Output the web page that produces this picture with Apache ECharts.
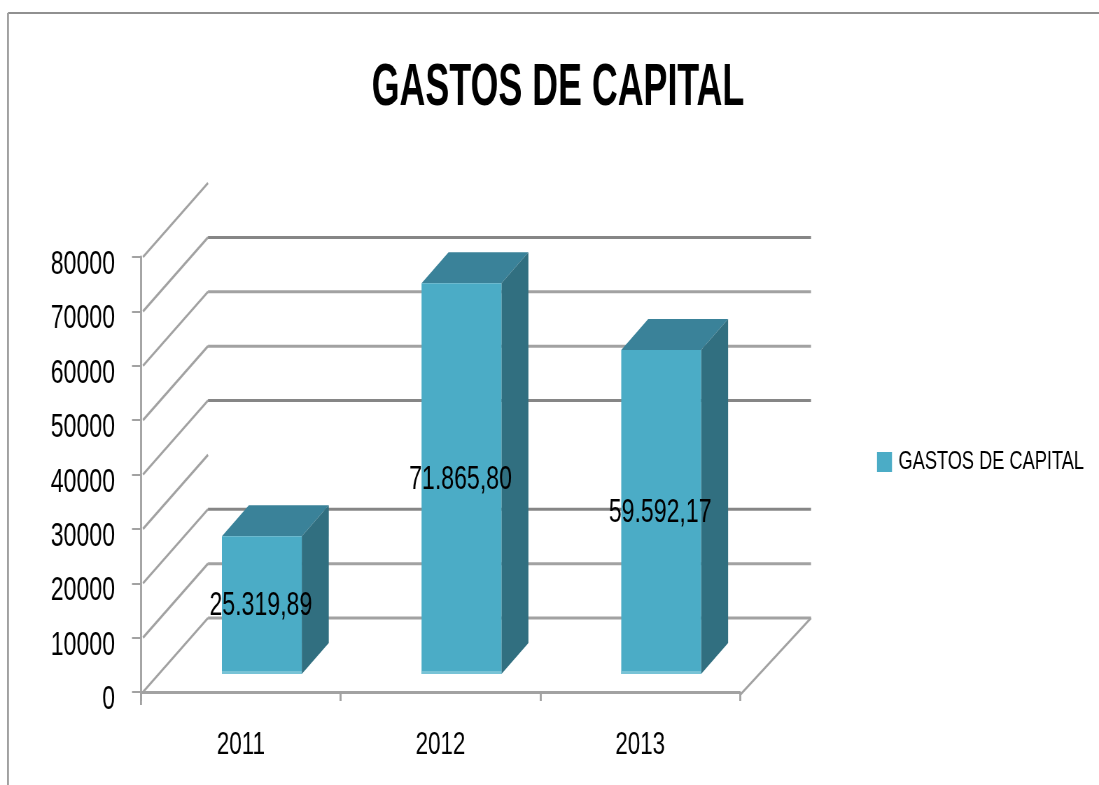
<!DOCTYPE html>
<html><head><meta charset="utf-8">
<style>html,body{margin:0;padding:0;background:#fff;width:1099px;height:785px;overflow:hidden}
#c{width:1570px;height:785px;transform:scaleX(0.7);transform-origin:0 0}</style>
<script src="https://cdn.jsdelivr.net/npm/echarts@6/dist/echarts.min.js"></script></head>
<body><div id="c"></div>
<script>
const titleText = 'GASTOS DE CAPITAL';
const seriesName = 'GASTOS DE CAPITAL';
const categories = ['2011', '2012', '2013'];
const values = [25319.89, 71865.80, 59592.17];
const valueLabels = ['25.319,89', '71.865,80', '59.592,17'];
const yMax = 80000, yStep = 10000;
const diagonalValues = [0, 10000, 20000, 30000, 40000, 50000, 60000, 70000, 80000];
const wallLines = [0, 10000, 20000, 40000, 50000, 60000, 70000];
const darkWallLines = [20000, 40000, 70000];

// The reference's text is horizontally squeezed: the chart is laid out wider and condensed with CSS.
const K = 0.7;
const X = v => v / K;
const FONT = '"Liberation Sans",Arial,sans-serif';
const WALL = [X(67), -74], BAR_OFF = [X(21), -18], BAR_DEPTH = [X(27), -31];
const GRID = '#a2a2a2', GRID_DARK = '#868686';
const ln = (x1, y1, x2, y2, stroke, lineWidth) => ({type:'line', shape:{x1,y1,x2,y2}, style:{stroke, lineWidth}});
const poly = (points, fill) => ({type:'polygon', shape:{points}, style:{fill}});

function renderWall(params, api) {
  const kids = [];
  const left = params.coordSys.x, right = left + params.coordSys.width;
  diagonalValues.forEach(v => {
    const y = api.coord([0, v])[1];
    kids.push(ln(left + X(2), y, left + WALL[0], y + WALL[1], GRID, 2.6));
  });
  wallLines.forEach(v => {
    const y = api.coord([0, v])[1] + WALL[1];
    kids.push(ln(left + WALL[0], y, right + WALL[0] + X(4), y, darkWallLines.includes(v) ? GRID_DARK : GRID, 3));
  });
  const y0 = api.coord([0, 0])[1];
  kids.push(ln(right, y0 + 3, right + WALL[0] + X(4), y0 + WALL[1], GRID, 2.6));
  kids.push(ln(left, y0, left, y0 + 13, GRID, X(2)));
  return {type:'group', children:kids};
}
function renderBar(params, api) {
  const i = api.value(0), v = api.value(1);
  const p0 = api.coord([i, 0]), p1 = api.coord([i, v]);
  const w = api.size([1, 0])[0] * 0.4;
  const l = p0[0] + BAR_OFF[0] - w / 2, r = l + w;
  const b = p0[1] + BAR_OFF[1], t = p1[1] + BAR_OFF[1];
  const dx = BAR_DEPTH[0], dy = BAR_DEPTH[1];
  return {type:'group', children:[
    poly([[l,t],[r,t],[r+dx,t+dy],[l+dx,t+dy]], '#3A8299'),
    poly([[r,t],[r+dx,t+dy],[r+dx,b+dy],[r,b]], '#316F80'),
    {type:'rect', shape:{x:l, y:t, width:w, height:b-t}, style:{fill:'#4BACC6'}},
    {type:'rect', shape:{x:l, y:b-3, width:w, height:3}, style:{fill:'#78C3D6'}},
    {type:'text', z2:10, x:(l+r)/2 - X(1), y:(t+b)/2 + 1, style:{text:valueLabels[i], fill:'#000', font:'33px '+FONT, align:'center', verticalAlign:'middle'}}
  ]};
}
const chart = echarts.init(document.getElementById('c'), null, {renderer:'canvas'});
chart.setOption({
  animation:false,
  backgroundColor:'#fff',
  legend:{data:[seriesName], left:X(877), top:449, orient:'vertical', icon:'rect', itemWidth:X(15), itemHeight:20, itemGap:0, padding:0,
    textStyle:{fontFamily:FONT, fontSize:26, color:'#000', padding:[8,0,0,X(3)]}},
  grid:{left:X(141), right:X(359), top:257, bottom:93},
  xAxis:{type:'category', data:categories, offset:4, boundaryGap:true,
    axisLine:{lineStyle:{color:GRID, width:3}},
    axisTick:{show:true, alignWithLabel:false, length:9, lineStyle:{color:GRID, width:X(2)}},
    axisLabel:{fontFamily:FONT, fontSize:32, color:'#000', margin:33, interval:0}},
  yAxis:{type:'value', min:0, max:yMax, interval:yStep,
    axisLine:{show:true, lineStyle:{color:GRID, width:X(2)}},
    axisTick:{show:true, length:X(9), lineStyle:{color:GRID, width:2}},
    splitLine:{show:false},
    axisLabel:{fontFamily:FONT, fontSize:33, color:'#000', margin:X(26), verticalAlign:'top', lineHeight:16, formatter:v => String(v)}},
  series:[
    {type:'custom', name:'wall', silent:true, z:1, data:[[0,0]], renderItem:renderWall, encode:{x:0,y:1}, clip:false},
    {type:'custom', name:seriesName, z:3, itemStyle:{color:'#4BACC6'}, data:values.map((v,i)=>[i,v]), renderItem:renderBar, encode:{x:0,y:1}, clip:false}
  ],
  graphic:[
    {type:'text', silent:true, x:X(558), y:88, scaleX:0.852, style:{text:titleText, font:'bold 60px '+FONT, fill:'#000', align:'center', verticalAlign:'middle'}},
    {type:'line', silent:true, shape:{x1:X(8),y1:13,x2:X(1099),y2:13}, style:{stroke:'#909090', lineWidth:2}},
    {type:'line', silent:true, shape:{x1:X(8),y1:13,x2:X(8),y2:785}, style:{stroke:'#a0a0a0', lineWidth:X(2)}}
  ]
});
</script></body></html>
